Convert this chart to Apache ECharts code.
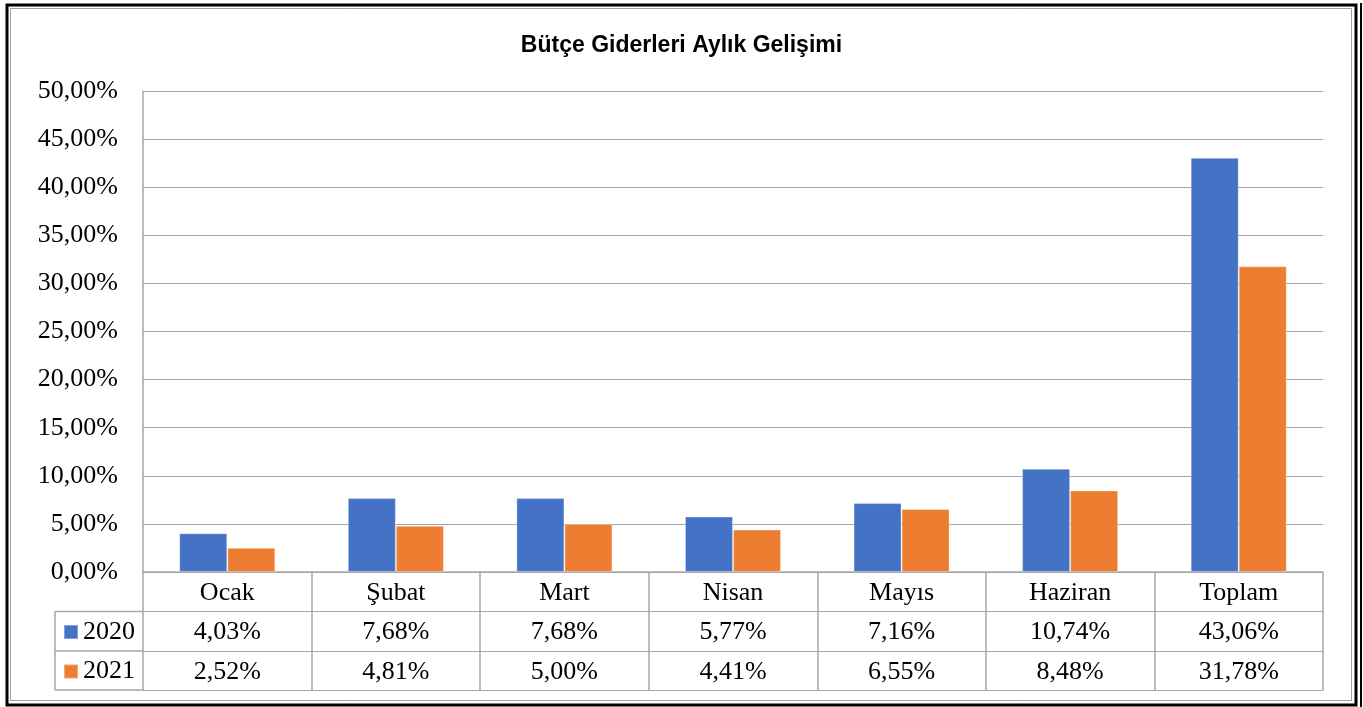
<!DOCTYPE html>
<html>
<head>
<meta charset="utf-8">
<script src="https://cdn.jsdelivr.net/npm/echarts@6/dist/echarts.min.js"></script>
<style>
  html, body { margin: 0; padding: 0; background: #fff; }
  #main { width: 1363px; height: 707px; }
</style>
</head>
<body>
<div id="main"></div>
<script>
// veriler
var categories = ['Ocak', 'Şubat', 'Mart', 'Nisan', 'Mayıs', 'Haziran', 'Toplam'];
var values2020 = [4.03, 7.68, 7.68, 5.77, 7.16, 10.74, 43.06];
var values2021 = [2.52, 4.81, 5.00, 4.41, 6.55, 8.48, 31.78];
var seriesNames = ['2020', '2021'];

var serif = 'Liberation Serif, Times New Roman, serif';
var gridCol = '#a6a6a6';
var fs = 26;

function pct(v) {
    return v.toFixed(2).replace('.', ',') + '%';
}

// tablo satırları
var gridLeft = 143, gridTop = 91, gridRight = 40, gridBottom = 135;
var rowH = 39.5;
var tableLeft = 55;
var axisY = 707 - gridBottom;

function tableAxis(data, offset, showLabel) {
    return {
        type: 'category',
        position: 'bottom',
        offset: offset,
        data: data,
        axisLine: { show: true, lineStyle: { color: gridCol, width: 1 } },
        axisTick: { show: false },
        axisLabel: {
            show: showLabel,
            interval: 0,
            margin: 8,
            fontFamily: serif,
            fontSize: fs,
            lineHeight: 26,
            color: '#000'
        },
        splitLine: { show: false }
    };
}

var option = {
    backgroundColor: '#fff',
    animation: false,
    title: {
        text: 'Bütçe Giderleri Aylık Gelişimi',
        left: 'center',
        top: 29,
        textStyle: {
            fontFamily: 'Liberation Sans, Arial, sans-serif',
            fontWeight: 'bold',
            fontSize: 23,
            color: '#000'
        }
    },
    legend: {
        orient: 'vertical',
        left: 58,
        top: 614,
        itemWidth: 14,
        itemHeight: 14,
        itemGap: 13.5,
        icon: 'rect',
        data: seriesNames,
        textStyle: { fontFamily: serif, fontSize: fs, lineHeight: 26, color: '#000' },
        selectedMode: false
    },
    grid: { left: gridLeft, top: gridTop, right: gridRight, bottom: gridBottom },
    xAxis: [
        {
            type: 'category',
            data: categories,
            axisLine: { show: true, lineStyle: { color: gridCol, width: 1.5 } },
            axisTick: { show: true, length: 118, lineStyle: { color: gridCol, width: 1.5 } },
            axisLabel: {
                interval: 0,
                margin: 8,
                fontFamily: serif,
                fontSize: fs,
                lineHeight: 26,
                color: '#000'
            }
        },
        tableAxis(values2020.map(pct), 39, true),
        tableAxis(values2021.map(pct), 79, true),
        tableAxis(categories, 118, false)
    ],
    yAxis: {
        type: 'value',
        min: 0,
        max: 50,
        interval: 5,
        axisLine: { show: true, lineStyle: { color: gridCol, width: 1.5 } },
        axisTick: { show: false },
        axisLabel: {
            margin: 25,
            fontFamily: serif,
            fontSize: fs,
            color: '#000',
            formatter: function (v) { return pct(v); }
        },
        splitLine: { show: true, lineStyle: { color: gridCol, width: 1 } }
    },
    series: [
        {
            name: seriesNames[0],
            type: 'bar',
            data: values2020,
            barWidth: '28.5%',
            barGap: '0%',
            itemStyle: { color: '#4472C4', borderColor: 'rgba(255,255,255,0.35)', borderWidth: 1 }
        },
        {
            name: seriesNames[1],
            type: 'bar',
            data: values2021,
            barWidth: '28.5%',
            barGap: '0%',
            itemStyle: { color: '#ED7D31', borderColor: 'rgba(255,255,255,0.35)', borderWidth: 1 }
        }
    ],
    graphic: [
        // dış çerçeve
        { type: 'rect', shape: { x: 7, y: 5, width: 1349, height: 700 }, style: { fill: null, stroke: '#000', lineWidth: 3 }, silent: true },
        { type: 'line', shape: { x1: 1361, y1: 3, x2: 1361, y2: 707 }, style: { stroke: '#000', lineWidth: 2 }, silent: true },
        { type: 'rect', shape: { x: 10.5, y: 8.5, width: 1341, height: 692 }, style: { fill: null, stroke: '#a0a0a0', lineWidth: 1 }, silent: true },
        // tablo sol sütun çizgileri
        { type: 'line', shape: { x1: tableLeft, y1: axisY + rowH, x2: gridLeft, y2: axisY + rowH }, style: { stroke: gridCol, lineWidth: 1.5 }, silent: true },
        { type: 'line', shape: { x1: tableLeft, y1: axisY + 2 * rowH, x2: gridLeft, y2: axisY + 2 * rowH }, style: { stroke: gridCol, lineWidth: 1.5 }, silent: true },
        { type: 'line', shape: { x1: tableLeft, y1: axisY + 118, x2: gridLeft, y2: axisY + 118 }, style: { stroke: gridCol, lineWidth: 1.5 }, silent: true },
        { type: 'line', shape: { x1: tableLeft, y1: axisY + rowH, x2: tableLeft, y2: axisY + 118 }, style: { stroke: gridCol, lineWidth: 1.5 }, silent: true }
    ]
};

var myChart = echarts.init(document.getElementById('main'));
myChart.setOption(option);
</script>
</body>
</html>
